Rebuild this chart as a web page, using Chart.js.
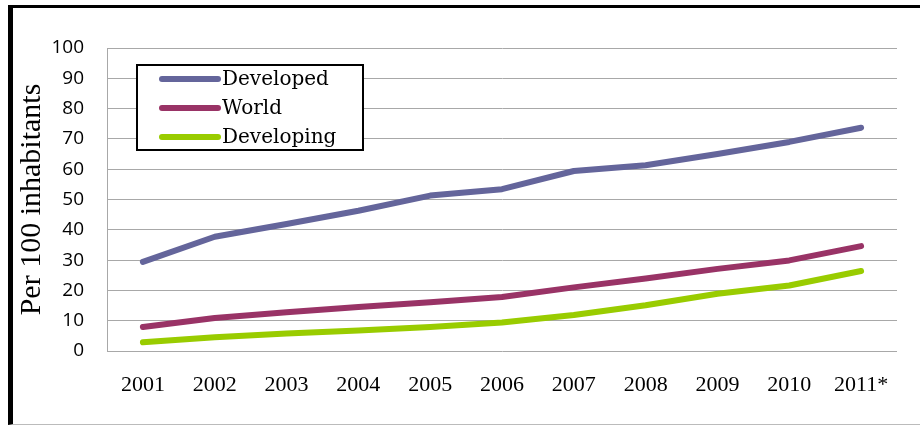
<!DOCTYPE html>
<html>
<head>
<meta charset="utf-8">
<script src="https://cdn.jsdelivr.net/npm/chart.js@4"></script>
<style>
  html, body { margin: 0; padding: 0; background: #fff; }
  #wrap { position: relative; width: 920px; height: 426px; }
  #frame { position: absolute; left: 8px; top: 5px; right: 0; bottom: 1px;
           border-top: 3px solid #000; border-left: 5px solid #000; border-bottom: 1px solid #bbb;
           pointer-events: none; }
</style>
</head>
<body>
<div id="wrap">
  <canvas id="c" width="920" height="426"></canvas>
  <div id="frame"></div>
</div>
<script>
const years = ['2001','2002','2003','2004','2005','2006','2007','2008','2009','2010','2011*'];
const developed = [29.4, 37.7, 41.9, 46.3, 51.3, 53.4, 59.4, 61.3, 65.0, 69.0, 73.7];
const world     = [7.9, 10.9, 12.8, 14.5, 16.1, 17.8, 21.0, 23.9, 27.1, 29.9, 34.6];
const developing= [2.9, 4.5, 5.8, 6.8, 7.9, 9.4, 11.9, 15.1, 18.9, 21.6, 26.4];
const yTicks = [0,10,20,30,40,50,60,70,80,90,100];
const yTitle = 'Per 100 inhabitants';

const legendBox = {
  id: 'legendBox',
  afterDraw(chart) {
    const ctx = chart.ctx;
    ctx.save();
    ctx.fillStyle = '#fff';
    ctx.fillRect(137, 65, 226, 85);
    ctx.lineWidth = 2;
    ctx.strokeStyle = '#000';
    ctx.strokeRect(137, 65, 226, 85);
    chart.data.datasets.forEach((ds, i) => {
      const y = 79 + i * 29;
      ctx.beginPath();
      ctx.lineCap = 'round';
      ctx.lineWidth = 6;
      ctx.strokeStyle = ds.borderColor;
      ctx.moveTo(162, y);
      ctx.lineTo(218, y);
      ctx.stroke();
      ctx.fillStyle = '#000';
      ctx.font = '20px "DejaVu Serif"';
      ctx.textBaseline = 'middle';
      ctx.textAlign = 'left';
      ctx.fillText(ds.label, 222, y + 1);
    });
    ctx.restore();
  }
};

const mk = (label, data, color) => ({
  label, data, borderColor: color, backgroundColor: color,
  borderWidth: 6, pointRadius: 0, tension: 0,
  borderCapStyle: 'round', borderJoinStyle: 'round', fill: false
});

new Chart(document.getElementById('c'), {
  type: 'line',
  data: {
    labels: years,
    datasets: [
      mk('Developed', developed, '#64659b'),
      mk('World', world, '#993366'),
      mk('Developing', developing, '#99cc00')
    ]
  },
  options: {
    responsive: false,
    animation: false,
    events: [],
    layout: { padding: { left: 0, right: 23, top: 48, bottom: 0 } },
    plugins: { legend: { display: false }, tooltip: { enabled: false } },
    scales: {
      x: {
        offset: true,
        grid: { display: false },
        border: { display: false },
        ticks: { color: '#000', padding: 13, maxRotation: 0,
                 font: { family: '"Liberation Serif"', size: 22 } },
        afterFit(s) { s.height = 75; }
      },
      y: {
        min: 0, max: 100,
        afterBuildTicks(s) { s.ticks = yTicks.map(v => ({ value: v })); },
        grid: { color: '#a8a8a8', lineWidth: 1, drawTicks: false },
        border: { display: true, color: '#a8a8a8', width: 1 },
        ticks: { color: '#000', padding: 23,
                 font: { family: '"Open Sans"', size: 19 } },
        title: { display: true, text: yTitle, color: '#000',
                 padding: { top: 14, bottom: 0 },
                 font: { family: '"Liberation Serif"', size: 30 } },
        afterFit(s) { s.width = 107; }
      }
    }
  },
  plugins: [legendBox]
});
</script>
</body>
</html>
